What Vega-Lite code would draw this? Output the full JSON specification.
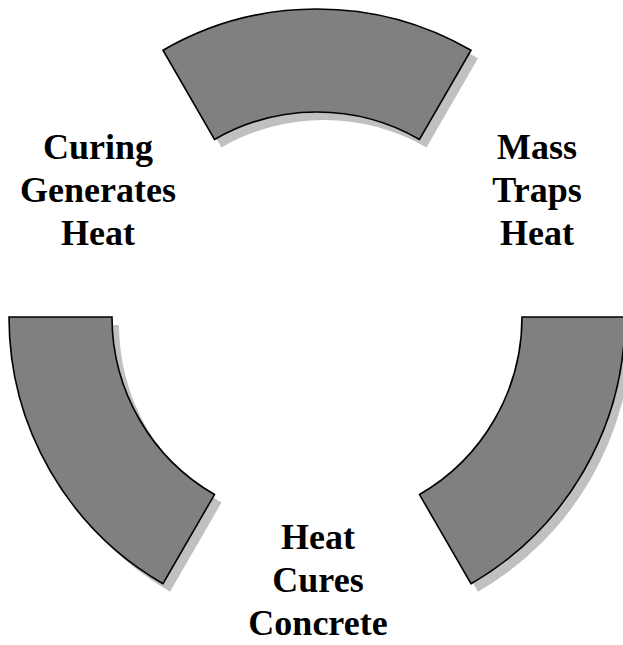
{
  "$schema": "https://vega.github.io/schema/vega-lite/v6.json",
  "width": 634,
  "height": 634,
  "padding": {"left": 0, "top": 0, "right": 0, "bottom": 11},
  "autosize": {"type": "none"},
  "background": "white",
  "config": {"view": {"stroke": null}},
  "datasets": {
    "arcs": [
      {"step": "Mass Traps Heat", "start": -30, "end": 30, "inner": 205, "outer": 308},
      {"step": "Heat Cures Concrete", "start": 90, "end": 150, "inner": 205, "outer": 308},
      {"step": "Curing Generates Heat", "start": 210, "end": 270, "inner": 205, "outer": 308}
    ],
    "labels": [
      {"label": "Curing\nGenerates\nHeat", "x": -219, "y": 158},
      {"label": "Mass\nTraps\nHeat", "x": 220, "y": 158},
      {"label": "Heat\nCures\nConcrete", "x": 1, "y": -232}
    ]
  },
  "layer": [
    {
      "data": {"name": "arcs"},
      "mark": {"type": "arc", "fill": "#c0c0c0", "stroke": null, "xOffset": 7, "yOffset": 8},
      "encoding": {
        "theta": {"field": "start", "type": "quantitative", "scale": {"domain": [0, 360], "range": [0, 6.283185307179586], "zero": false, "nice": false}},
        "theta2": {"field": "end"},
        "radius": {"field": "outer", "type": "quantitative", "scale": {"type": "linear", "domain": [0, 317], "range": [0, 317], "zero": true, "nice": false}},
        "radius2": {"field": "inner"}
      }
    },
    {
      "data": {"name": "arcs"},
      "mark": {"type": "arc", "fill": "#808080", "stroke": "#000000", "strokeWidth": 1.6},
      "encoding": {
        "theta": {"field": "start", "type": "quantitative"},
        "theta2": {"field": "end"},
        "radius": {"field": "outer", "type": "quantitative"},
        "radius2": {"field": "inner"}
      }
    },
    {
      "data": {"name": "labels"},
      "mark": {"type": "text", "font": "Liberation Serif", "fontWeight": "bold", "fontSize": 36, "lineBreak": "\n", "lineHeight": 43, "align": "center", "baseline": "alphabetic", "color": "#000000"},
      "encoding": {
        "x": {"field": "x", "type": "quantitative", "scale": {"domain": [-317, 317], "nice": false, "zero": false}, "axis": null},
        "y": {"field": "y", "type": "quantitative", "scale": {"domain": [-317, 317], "nice": false, "zero": false}, "axis": null},
        "text": {"field": "label", "type": "nominal"}
      }
    }
  ]
}
